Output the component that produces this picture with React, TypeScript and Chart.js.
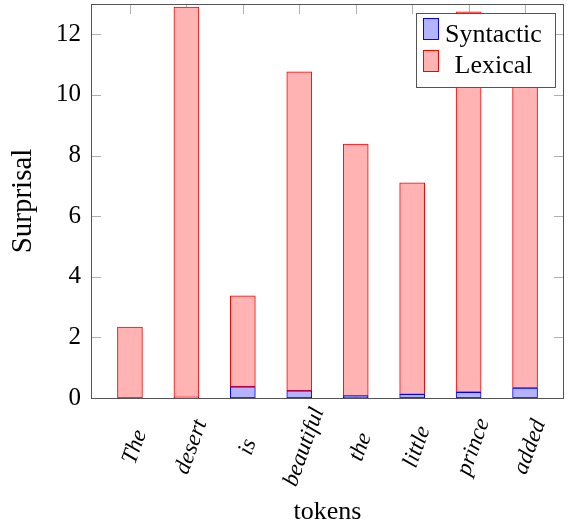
import { useEffect, useRef } from "react";
import { Chart, registerables } from "chart.js";

Chart.register(...registerables);

const tokens = ["The", "desert", "is", "beautiful", "the", "little", "prince", "added"];
const syntactic = [0, 0.02, 0.37, 0.24, 0.07, 0.12, 0.19, 0.33];
const lexical = [2.34, 12.88, 3.0, 10.52, 8.31, 6.98, 12.55, 11.47];
const yTicks = [0, 2, 4, 6, 8, 10, 12];
const seriesNames = ["Syntactic", "Lexical"];

const SERIF = '"Liberation Serif", "Times New Roman", serif';
const BLUE_FILL = "rgb(179,179,255)";
const BLUE_LINE = "rgb(0,0,255)";
const RED_FILL = "rgb(255,179,179)";
const RED_LINE = "rgb(255,0,0)";
const FRAME = "#555555";
const TICK = "#b0b0b0";

const zeroPad = (s: any) => {
  s.paddingTop = 0;
  s.paddingBottom = 0;
  s.paddingLeft = 0;
  s.paddingRight = 0;
};

export default function App() {
  const ref = useRef<HTMLCanvasElement>(null);

  useEffect(() => {
    const canvas = ref.current;
    if (!canvas) return;

    const framePlugin = {
      id: "pgfFrame",
      beforeDatasetsDraw(chart: any) {
        const { ctx, chartArea: a, scales } = chart;
        ctx.save();
        ctx.strokeStyle = TICK;
        ctx.lineWidth = 1;
        ctx.beginPath();
        for (const v of yTicks) {
          const y = Math.round(scales.y.getPixelForValue(v)) + 0.5;
          ctx.moveTo(a.left, y);
          ctx.lineTo(a.left + 10, y);
          ctx.moveTo(a.right, y);
          ctx.lineTo(a.right - 10, y);
        }
        tokens.forEach((_, i) => {
          const x = Math.round(scales.x.getPixelForValue(i)) + 0.5;
          ctx.moveTo(x, a.top);
          ctx.lineTo(x, a.top + 10);
          ctx.moveTo(x, a.bottom);
          ctx.lineTo(x, a.bottom - 10);
        });
        ctx.stroke();
        ctx.strokeStyle = FRAME;
        ctx.strokeRect(
          Math.round(a.left) + 0.5,
          Math.round(a.top) + 0.5,
          Math.round(a.right - a.left) - 1,
          Math.round(a.bottom - a.top)
        );
        ctx.restore();
      },
      afterDraw(chart: any) {
        const { ctx, chartArea: a, scales } = chart;
        ctx.save();
        // rotated x tick labels, centred on their anchor
        ctx.fillStyle = "#000";
        ctx.font = `italic 23px ${SERIF}`;
        ctx.textAlign = "center";
        ctx.textBaseline = "middle";
        tokens.forEach((t, i) => {
          const x = scales.x.getPixelForValue(i) + 5;
          const y = a.bottom + 49;
          ctx.save();
          ctx.translate(x, y);
          ctx.rotate((-70 * Math.PI) / 180);
          ctx.fillText(t, 0, 0);
          ctx.restore();
        });

        // legend box
        const bx = a.right - 147.5;
        const by = a.top + 9.5;
        const bw = 139;
        const bh = 74;
        ctx.fillStyle = "#fff";
        ctx.fillRect(bx, by, bw, bh);
        ctx.strokeStyle = FRAME;
        ctx.lineWidth = 1;
        ctx.strokeRect(bx, by, bw, bh);
        const fills = [BLUE_FILL, RED_FILL];
        const lines = [BLUE_LINE, RED_LINE];
        ctx.font = `26px ${SERIF}`;
        ctx.textAlign = "center";
        ctx.textBaseline = "alphabetic";
        seriesNames.forEach((name, k) => {
          const sy = by + 5 + k * 32;
          ctx.fillStyle = fills[k];
          ctx.fillRect(bx + 7, sy, 15, 21);
          ctx.strokeStyle = lines[k];
          ctx.strokeRect(bx + 7, sy, 15, 21);
          ctx.fillStyle = "#000";
          ctx.fillText(name, bx + 77, by + 28 + k * 31);
        });
        ctx.restore();
      },
    };

    const chart = new Chart(canvas, {
      type: "bar",
      data: {
        datasets: [
          {
            label: seriesNames[0],
            data: syntactic.map((v, i) => ({ x: i, y: v })),
            backgroundColor: BLUE_FILL,
            borderColor: BLUE_LINE,
            borderWidth: 1,
            borderSkipped: false,
            barThickness: 25,
          },
          {
            label: seriesNames[1],
            data: lexical.map((v, i) => ({ x: i, y: v })),
            backgroundColor: RED_FILL,
            borderColor: RED_LINE,
            borderWidth: 1,
            borderSkipped: false,
            barThickness: 25,
          },
        ],
      },
      options: {
        animation: false,
        responsive: false,
        devicePixelRatio: 1,
        layout: { padding: { top: 4, right: 4, left: 0, bottom: 0 } },
        plugins: { legend: { display: false }, tooltip: { enabled: false } },
        scales: {
          x: {
            type: "linear",
            stacked: true,
            offset: false,
            min: -0.69,
            max: 7.69,
            grid: { display: false, drawTicks: false, offset: false },
            border: { display: false },
            ticks: { display: false },
            title: {
              display: true,
              text: "tokens",
              color: "#000",
              font: { family: SERIF, size: 26 },
              padding: { top: 0, bottom: 0 },
            },
            afterFit: (s: any) => {
              s.height = 130;
              zeroPad(s);
            },
          },
          y: {
            type: "linear",
            stacked: true,
            min: 0,
            max: 13,
            grid: { display: false, drawTicks: false },
            border: { display: false },
            ticks: {
              stepSize: 2,
              includeBounds: false,
              color: "#000",
              font: { family: SERIF, size: 25 },
              padding: 10,
            },
            title: {
              display: true,
              text: "Surprisal",
              color: "#000",
              font: { family: SERIF, size: 29 },
              padding: { top: 6, bottom: 0 },
            },
            afterFit: (s: any) => {
              s.width = 91;
              zeroPad(s);
            },
          },
        },
      } as any,
      plugins: [framePlugin],
    });

    return () => chart.destroy();
  }, []);

  return (
    <div style={{ position: "fixed", left: 0, top: 0, width: 568, height: 528, background: "#fff" }}>
      <canvas ref={ref} width={568} height={528} style={{ display: "block", width: 568, height: 528 }} />
    </div>
  );
}
